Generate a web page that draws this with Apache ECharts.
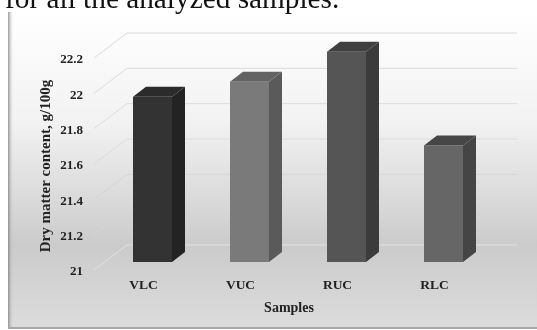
<!DOCTYPE html>
<html>
<head>
<meta charset="utf-8">
<style>html,body{margin:0;padding:0;background:#fff}#chart{width:537px;height:330px}</style>
<script src="https://cdn.jsdelivr.net/npm/echarts@6/dist/echarts.min.js"></script>
</head>
<body>
<div id="chart"></div>
<script>
const categories = ['VLC', 'VUC', 'RUC', 'RLC'];
const dryMatter = [21.935, 22.02, 22.19, 21.66];
const yTicks = [21, 21.2, 21.4, 21.6, 21.8, 22, 22.2];
const frontColors = ['#333333', '#7a7a7a', '#555555', '#666666'];
const sideColors = ['#232323', '#5a5a5a', '#3b3b3b', '#454545'];
const topColors = ['#2b2b2b', '#636363', '#404040', '#464646'];

const SERIF = '"Liberation Serif", serif';
// Oblique projection offsets for the floor edge, bar plane and back wall
const floorLift = -2;
const barShift = { x: 9, y: -10 };
const barDepth = { x: 13, y: -10 };
const wallShift = { x: 32, y: -27 };
const halfBar = 19.5;

function poly(points, fill) {
  return { type: 'polygon', shape: { points }, style: { fill } };
}

function renderGridLine(params, api) {
  const p = api.coord([0, api.value(1)]);
  const x0 = params.coordSys.x;
  const y = p[1];
  const stroke = params.dataIndex === 0 ? '#e2e2e2' : params.dataIndex < 3 ? '#d6d6d6' : '#dcdcdc';
  return {
    type: 'polyline',
    shape: { points: [[x0 - 1, y + floorLift], [x0 + wallShift.x, y + wallShift.y], [517, y + wallShift.y]] },
    style: { stroke, lineWidth: 1, fill: null }
  };
}

function renderBar(params, api) {
  const i = api.value(0);
  const top = api.coord([i, api.value(1)]);
  const base = api.coord([i, 21]);
  const l = top[0] + barShift.x - halfBar;
  const r = top[0] + barShift.x + halfBar;
  const t = top[1] + barShift.y;
  const b = base[1] + barShift.y;
  const dx = barDepth.x, dy = barDepth.y;
  return {
    type: 'group',
    children: [
      poly([[l, t], [r, t], [r, b], [l, b]], frontColors[i]),
      poly([[r, t], [r + dx, t + dy], [r + dx, b + dy], [r, b]], sideColors[i]),
      poly([[l, t], [l + dx, t + dy], [r + dx, t + dy], [r, t]], topColors[i])
    ]
  };
}

const chart = echarts.init(document.getElementById('chart'), null, { renderer: 'canvas' });
chart.setOption({
  animation: false,
  backgroundColor: '#ffffff',
  graphic: [
    {
      type: 'rect', z: -10,
      shape: { x: 8, y: 12, width: 529, height: 316 },
      style: {
        fill: new echarts.graphic.LinearGradient(0, 0, 0, 1, [
          { offset: 0, color: '#ffffff' },
          { offset: 0.35, color: '#f2f2f2' },
          { offset: 0.74, color: '#cbcbcb' },
          { offset: 1, color: '#dcdcdc' }
        ])
      }
    },
    {
      type: 'rect', z: -9,
      shape: { x: 8, y: 12, width: 5, height: 316 },
      style: {
        fill: new echarts.graphic.LinearGradient(0, 0, 1, 0, [
          { offset: 0, color: 'rgba(120,120,120,0.75)' },
          { offset: 1, color: 'rgba(200,200,200,0)' }
        ])
      }
    },
    {
      type: 'rect', z: -9,
      shape: { x: 8, y: 327, width: 529, height: 2 },
      style: { fill: '#a8a8a8' }
    },
    {
      type: 'text', left: 5, top: -14,
      style: { text: 'for all the analyzed samples.', font: '29.3px ' + SERIF, fill: '#111' }
    }
  ],
  grid: { left: 95, top: 60, width: 388, height: 212 },
  xAxis: {
    type: 'category',
    data: categories,
    axisLine: { show: false },
    axisTick: { show: false },
    axisLabel: { margin: 7, color: '#222', fontFamily: SERIF, fontWeight: 'bold', fontSize: 13.5 },
    name: 'Samples',
    nameLocation: 'middle',
    nameGap: 29,
    nameMoveOverlap: false,
    nameTextStyle: { color: '#222', fontFamily: SERIF, fontWeight: 'bold', fontSize: 14 }
  },
  yAxis: {
    type: 'value',
    min: 21,
    max: 22.2,
    interval: 0.2,
    splitLine: { show: false },
    axisLine: { show: false },
    axisTick: { show: false },
    axisLabel: {
      margin: 12, color: '#222', fontFamily: SERIF, fontWeight: 'bold', fontSize: 13,
      formatter: v => String(Number(v.toFixed(1)))
    },
    name: 'Dry matter content, g/100g',
    nameLocation: 'middle',
    nameGap: 41,
    nameMoveOverlap: false,
    nameRotate: 90,
    nameTextStyle: { color: '#222', fontFamily: SERIF, fontWeight: 'bold', fontSize: 15 }
  },
  series: [
    {
      type: 'custom', z: 1, clip: false, silent: true,
      renderItem: renderGridLine,
      encode: { x: 0, y: 1 },
      data: yTicks.map(v => [0, v])
    },
    {
      type: 'custom', z: 2, clip: false, silent: true,
      renderItem: renderBar,
      encode: { x: 0, y: 1 },
      data: dryMatter.map((v, i) => [i, v])
    }
  ]
});
</script>
</body>
</html>
